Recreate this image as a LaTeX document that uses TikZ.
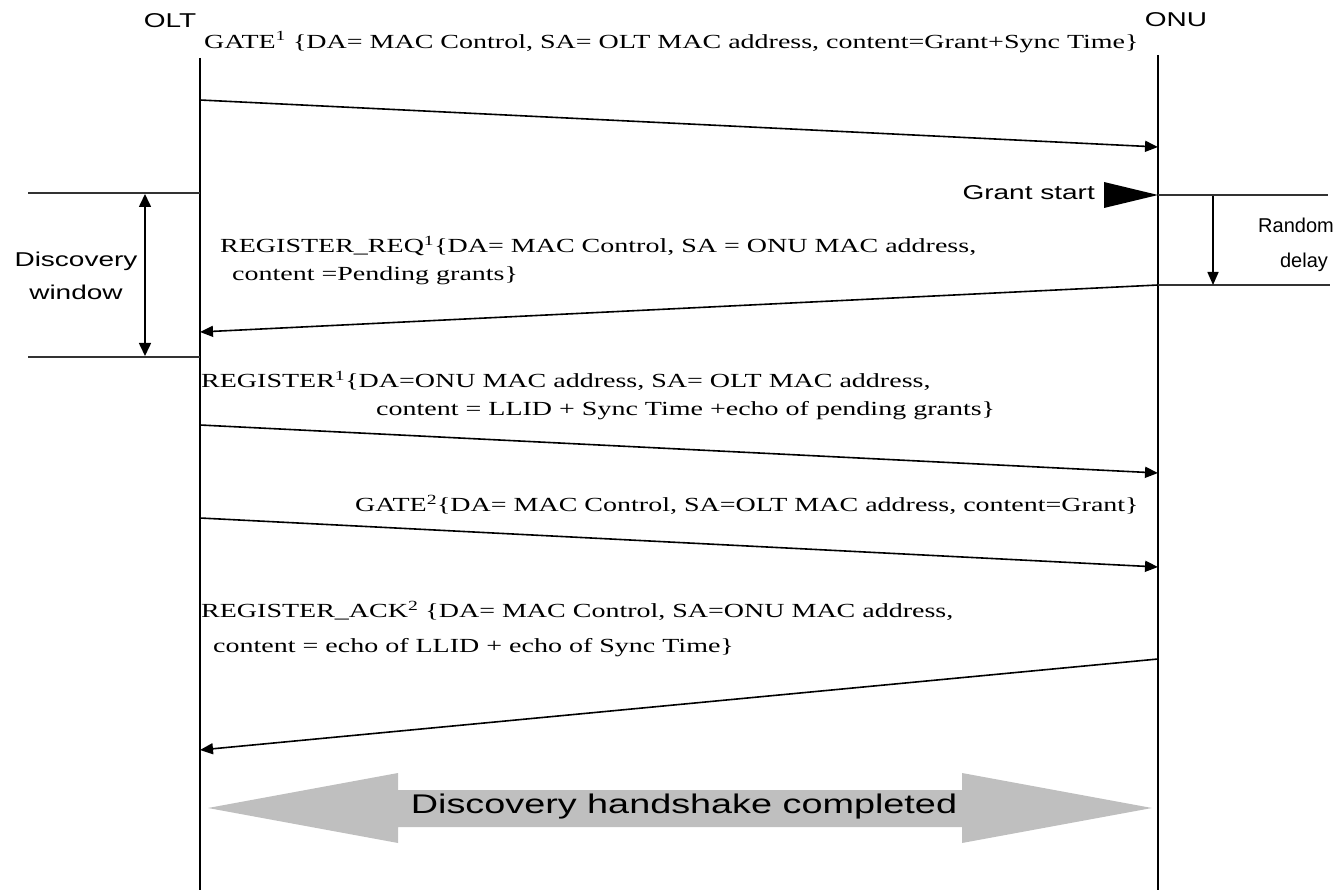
\documentclass[tikz,border=0pt]{standalone}
\usepackage{fontspec}
\setmainfont{Liberation Serif}[FakeStretch=1.4]
\setsansfont{Liberation Sans}[FakeStretch=1.4]
\newfontfamily\plainsans{Liberation Sans}
\usetikzlibrary{arrows.meta}
\begin{document}
\begin{tikzpicture}[x=1pt,y=-1pt,
  msg/.style={font=\fontsize{20}{24}\selectfont, inner sep=0pt, anchor=west},
  lbl/.style={font=\sffamily\fontsize{20}{24}\selectfont, inner sep=0pt},
  rlbl/.style={font=\plainsans\fontsize{20}{24}\selectfont, inner sep=0pt},
  life/.style={line width=2pt},
  hline/.style={line width=2pt, black!80},
  sig/.style={line width=1.6pt, -{Triangle[length=13pt,width=11pt]}},
  dbl/.style={line width=1.6pt, {Triangle[length=13pt,width=12pt]}-{Triangle[length=13pt,width=12pt]}},
  big/.style={fill=black!25, draw=none}]
\useasboundingbox (0,0) rectangle (1341,890);
% lifelines
\node[lbl] (olt) at (170,21) {OLT};
\node[lbl] (onu) at (1176,20) {ONU};
\coordinate (olttop) at (200,58);
\coordinate (oltbot) at (200,890);
\coordinate (onutop) at (1158,55);
\coordinate (onubot) at (1158,890);
\draw[life] (olttop) -- (oltbot);
\draw[life] (onutop) -- (onubot);
% GATE 1
\node[msg] (t1) at (204,42) {GATE\textsuperscript{1} \{DA= MAC Control, SA= OLT MAC address, content=Grant+Sync Time\}};
\coordinate (a1s) at (200,100);
\coordinate (a1e) at (1158,147);
\draw[sig] (a1s) -- (a1e);
% discovery window
\coordinate (dw1s) at (28,193); \coordinate (dw1e) at (200,193);
\coordinate (dw2s) at (28,357); \coordinate (dw2e) at (200,357);
\draw[hline] (dw1s) -- (dw1e);
\draw[hline] (dw2s) -- (dw2e);
\coordinate (dwa) at (145,194); \coordinate (dwb) at (145,356);
\draw[dbl] (dwa) -- (dwb);
\node[lbl] (dw1) at (76,261) {Discovery};
\node[lbl] (dw2) at (76,292) {window};
% grant start / random delay
\node[lbl, anchor=east] (gs) at (1095,193) {Grant start};
\coordinate (gtip) at (1158,195);
\fill (gtip) -- (1104,182) -- (1104,208) -- cycle;
\coordinate (rd1s) at (1158,195); \coordinate (rd1e) at (1328,195);
\coordinate (rd2s) at (1158,285); \coordinate (rd2e) at (1330,285);
\draw[hline] (rd1s) -- (rd1e);
\draw[hline] (rd2s) -- (rd2e);
\coordinate (rda) at (1213,196); \coordinate (rdb) at (1213,285);
\draw[sig] (rda) -- (rdb);
\node[rlbl] (rd1) at (1296,225) {Random};
\node[rlbl] (rd2) at (1304,262) {delay};
% REGISTER_REQ
\node[msg] (t2a) at (220,246) {REGISTER\_REQ\textsuperscript{1}\{DA= MAC Control, SA = ONU MAC address,};
\node[msg] (t2b) at (232,276) {content =Pending grants\}};
\coordinate (a2s) at (1158,285);
\coordinate (a2e) at (200,332);
\draw[sig] (a2s) -- (a2e);
% REGISTER
\node[msg] (t3a) at (201,381) {REGISTER\textsuperscript{1}\{DA=ONU MAC address, SA= OLT MAC address,};
\node[msg] (t3b) at (376,411) {content = LLID + Sync Time +echo of pending grants\}};
\coordinate (a3s) at (200,425);
\coordinate (a3e) at (1158,473);
\draw[sig] (a3s) -- (a3e);
% GATE 2
\node[msg] (t4) at (355,505) {GATE\textsuperscript{2}\{DA= MAC Control, SA=OLT MAC address, content=Grant\}};
\coordinate (a4s) at (200,518);
\coordinate (a4e) at (1158,567);
\draw[sig] (a4s) -- (a4e);
% REGISTER_ACK
\node[msg] (t5a) at (201,611) {REGISTER\_ACK\textsuperscript{2} \{DA= MAC Control, SA=ONU MAC address,};
\node[msg] (t5b) at (213,648) {content = echo of LLID + echo of Sync Time\}};
\coordinate (a5s) at (1158,659);
\coordinate (a5e) at (200,750);
\draw[sig] (a5s) -- (a5e);
% handshake completed
\fill[big] (208,808) -- (398,773) -- (398,790) -- (962,790) -- (962,773) -- (1152,808)
  -- (962,843) -- (962,827) -- (398,827) -- (398,843) -- cycle;
\node[lbl, font=\sffamily\fontsize{27}{32}\selectfont] (done) at (684,807) {Discovery handshake completed};
\end{tikzpicture}
\end{document}
